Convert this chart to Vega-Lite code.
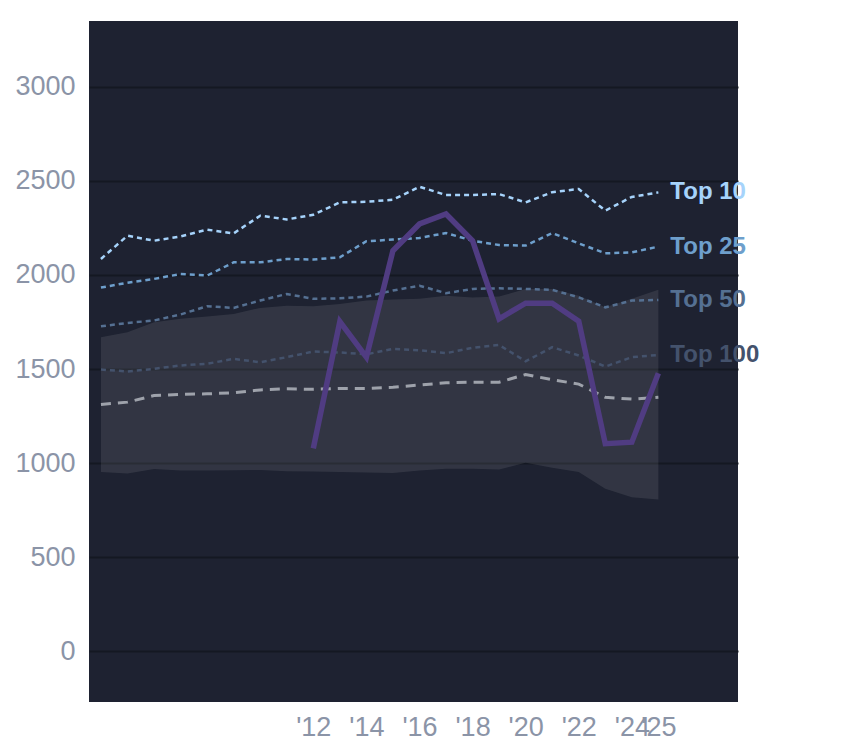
{
  "$schema": "https://vega.github.io/schema/vega-lite/v6.json",
  "autosize": {"type": "none"},
  "padding": {"left": 89, "top": 21, "right": 106, "bottom": 46},
  "width": 649,
  "height": 681,
  "background": "white",
  "config": {
    "view": {"fill": "#1e2231", "stroke": null},
    "font": "Liberation Sans",
    "axis": {
      "domain": false,
      "ticks": false,
      "labelFont": "Liberation Sans",
      "labelFontSize": 27,
      "labelColor": "#8b94a7",
      "title": null
    }
  },
  "datasets": {
    "band": [
      {"year": 2004, "lo": 952, "hi": 1669},
      {"year": 2005, "lo": 944, "hi": 1696},
      {"year": 2006, "lo": 968, "hi": 1749},
      {"year": 2007, "lo": 961, "hi": 1767},
      {"year": 2008, "lo": 960, "hi": 1779},
      {"year": 2009, "lo": 962, "hi": 1793},
      {"year": 2010, "lo": 963, "hi": 1825},
      {"year": 2011, "lo": 956, "hi": 1837},
      {"year": 2012, "lo": 955, "hi": 1834},
      {"year": 2013, "lo": 952, "hi": 1846},
      {"year": 2014, "lo": 950, "hi": 1864},
      {"year": 2015, "lo": 947, "hi": 1869},
      {"year": 2016, "lo": 961, "hi": 1873},
      {"year": 2017, "lo": 970, "hi": 1890},
      {"year": 2018, "lo": 970, "hi": 1880},
      {"year": 2019, "lo": 966, "hi": 1885},
      {"year": 2020, "lo": 1002, "hi": 1925},
      {"year": 2021, "lo": 975, "hi": 1925},
      {"year": 2022, "lo": 952, "hi": 1890},
      {"year": 2023, "lo": 864, "hi": 1828},
      {"year": 2024, "lo": 819, "hi": 1873},
      {"year": 2025, "lo": 807, "hi": 1922}
    ],
    "tiers": [
      {"year": 2004, "tier": "Top 10", "value": 2085},
      {"year": 2005, "tier": "Top 10", "value": 2209},
      {"year": 2006, "tier": "Top 10", "value": 2182},
      {"year": 2007, "tier": "Top 10", "value": 2205},
      {"year": 2008, "tier": "Top 10", "value": 2241},
      {"year": 2009, "tier": "Top 10", "value": 2221},
      {"year": 2010, "tier": "Top 10", "value": 2315},
      {"year": 2011, "tier": "Top 10", "value": 2295},
      {"year": 2012, "tier": "Top 10", "value": 2320},
      {"year": 2013, "tier": "Top 10", "value": 2386},
      {"year": 2014, "tier": "Top 10", "value": 2389},
      {"year": 2015, "tier": "Top 10", "value": 2400},
      {"year": 2016, "tier": "Top 10", "value": 2469},
      {"year": 2017, "tier": "Top 10", "value": 2425},
      {"year": 2018, "tier": "Top 10", "value": 2425},
      {"year": 2019, "tier": "Top 10", "value": 2430},
      {"year": 2020, "tier": "Top 10", "value": 2386},
      {"year": 2021, "tier": "Top 10", "value": 2440},
      {"year": 2022, "tier": "Top 10", "value": 2457},
      {"year": 2023, "tier": "Top 10", "value": 2342},
      {"year": 2024, "tier": "Top 10", "value": 2415},
      {"year": 2025, "tier": "Top 10", "value": 2439},
      {"year": 2004, "tier": "Top 25", "value": 1933},
      {"year": 2005, "tier": "Top 25", "value": 1959},
      {"year": 2006, "tier": "Top 25", "value": 1979},
      {"year": 2007, "tier": "Top 25", "value": 2005},
      {"year": 2008, "tier": "Top 25", "value": 1997},
      {"year": 2009, "tier": "Top 25", "value": 2067},
      {"year": 2010, "tier": "Top 25", "value": 2067},
      {"year": 2011, "tier": "Top 25", "value": 2085},
      {"year": 2012, "tier": "Top 25", "value": 2082},
      {"year": 2013, "tier": "Top 25", "value": 2094},
      {"year": 2014, "tier": "Top 25", "value": 2179},
      {"year": 2015, "tier": "Top 25", "value": 2188},
      {"year": 2016, "tier": "Top 25", "value": 2197},
      {"year": 2017, "tier": "Top 25", "value": 2223},
      {"year": 2018, "tier": "Top 25", "value": 2182},
      {"year": 2019, "tier": "Top 25", "value": 2159},
      {"year": 2020, "tier": "Top 25", "value": 2156},
      {"year": 2021, "tier": "Top 25", "value": 2223},
      {"year": 2022, "tier": "Top 25", "value": 2168},
      {"year": 2023, "tier": "Top 25", "value": 2115},
      {"year": 2024, "tier": "Top 25", "value": 2120},
      {"year": 2025, "tier": "Top 25", "value": 2151},
      {"year": 2004, "tier": "Top 50", "value": 1727},
      {"year": 2005, "tier": "Top 50", "value": 1745},
      {"year": 2006, "tier": "Top 50", "value": 1758},
      {"year": 2007, "tier": "Top 50", "value": 1790},
      {"year": 2008, "tier": "Top 50", "value": 1834},
      {"year": 2009, "tier": "Top 50", "value": 1825},
      {"year": 2010, "tier": "Top 50", "value": 1864},
      {"year": 2011, "tier": "Top 50", "value": 1899},
      {"year": 2012, "tier": "Top 50", "value": 1873},
      {"year": 2013, "tier": "Top 50", "value": 1876},
      {"year": 2014, "tier": "Top 50", "value": 1885},
      {"year": 2015, "tier": "Top 50", "value": 1917},
      {"year": 2016, "tier": "Top 50", "value": 1943},
      {"year": 2017, "tier": "Top 50", "value": 1903},
      {"year": 2018, "tier": "Top 50", "value": 1926},
      {"year": 2019, "tier": "Top 50", "value": 1929},
      {"year": 2020, "tier": "Top 50", "value": 1926},
      {"year": 2021, "tier": "Top 50", "value": 1921},
      {"year": 2022, "tier": "Top 50", "value": 1881},
      {"year": 2023, "tier": "Top 50", "value": 1828},
      {"year": 2024, "tier": "Top 50", "value": 1864},
      {"year": 2025, "tier": "Top 50", "value": 1867},
      {"year": 2004, "tier": "Top 100", "value": 1497},
      {"year": 2005, "tier": "Top 100", "value": 1487},
      {"year": 2006, "tier": "Top 100", "value": 1501},
      {"year": 2007, "tier": "Top 100", "value": 1519},
      {"year": 2008, "tier": "Top 100", "value": 1528},
      {"year": 2009, "tier": "Top 100", "value": 1554},
      {"year": 2010, "tier": "Top 100", "value": 1536},
      {"year": 2011, "tier": "Top 100", "value": 1563},
      {"year": 2012, "tier": "Top 100", "value": 1593},
      {"year": 2013, "tier": "Top 100", "value": 1588},
      {"year": 2014, "tier": "Top 100", "value": 1578},
      {"year": 2015, "tier": "Top 100", "value": 1607},
      {"year": 2016, "tier": "Top 100", "value": 1600},
      {"year": 2017, "tier": "Top 100", "value": 1584},
      {"year": 2018, "tier": "Top 100", "value": 1613},
      {"year": 2019, "tier": "Top 100", "value": 1628},
      {"year": 2020, "tier": "Top 100", "value": 1541},
      {"year": 2021, "tier": "Top 100", "value": 1616},
      {"year": 2022, "tier": "Top 100", "value": 1572},
      {"year": 2023, "tier": "Top 100", "value": 1513},
      {"year": 2024, "tier": "Top 100", "value": 1563},
      {"year": 2025, "tier": "Top 100", "value": 1575}
    ],
    "median": [
      {"year": 2004, "value": 1312},
      {"year": 2005, "value": 1324},
      {"year": 2006, "value": 1359},
      {"year": 2007, "value": 1365},
      {"year": 2008, "value": 1368},
      {"year": 2009, "value": 1374},
      {"year": 2010, "value": 1389},
      {"year": 2011, "value": 1395},
      {"year": 2012, "value": 1392},
      {"year": 2013, "value": 1397},
      {"year": 2014, "value": 1397},
      {"year": 2015, "value": 1403},
      {"year": 2016, "value": 1415},
      {"year": 2017, "value": 1427},
      {"year": 2018, "value": 1430},
      {"year": 2019, "value": 1430},
      {"year": 2020, "value": 1471},
      {"year": 2021, "value": 1443},
      {"year": 2022, "value": 1420},
      {"year": 2023, "value": 1350},
      {"year": 2024, "value": 1340},
      {"year": 2025, "value": 1350}
    ],
    "player": [
      {"year": 2012, "value": 1078},
      {"year": 2013, "value": 1752},
      {"year": 2014, "value": 1563},
      {"year": 2015, "value": 2129},
      {"year": 2016, "value": 2271},
      {"year": 2017, "value": 2324},
      {"year": 2018, "value": 2182},
      {"year": 2019, "value": 1767},
      {"year": 2020, "value": 1850},
      {"year": 2021, "value": 1850},
      {"year": 2022, "value": 1754},
      {"year": 2023, "value": 1103},
      {"year": 2024, "value": 1111},
      {"year": 2025, "value": 1478}
    ]
  },
  "encoding": {
    "x": {
      "field": "year",
      "type": "quantitative",
      "scale": {"domain": [2003.55, 2028], "nice": false, "zero": false},
      "axis": {
        "values": [2012, 2014, 2016, 2018, 2020, 2022, 2024, 2025],
        "labelExpr": "\"'\" + slice(toString(datum.value), 2)",
        "grid": false,
        "labelPadding": 12,
        "labelFlush": false,
        "labelOverlap": false
      }
    }
  },
  "layer": [
    {
      "data": {"name": "band"},
      "mark": {"type": "area", "color": "white", "opacity": 0.09},
      "encoding": {
        "y": {
          "field": "lo",
          "type": "quantitative",
          "scale": {"domain": [-270, 3350], "nice": false, "zero": false},
          "axis": {
            "values": [0, 500, 1000, 1500, 2000, 2500, 3000],
            "format": "d",
            "grid": true,
            "gridColor": "#141822",
            "gridWidth": 2,
            "labelPadding": 14
          }
        },
        "y2": {"field": "hi"}
      }
    },
    {
      "data": {"name": "tiers"},
      "mark": {"type": "line", "strokeWidth": 2.5, "strokeDash": [5, 4]},
      "encoding": {
        "y": {"field": "value", "type": "quantitative"},
        "color": {
          "field": "tier",
          "type": "nominal",
          "scale": {
            "domain": ["Top 10", "Top 25", "Top 50", "Top 100"],
            "range": ["#a6d3fb", "#6e9fcc", "#557092", "#44526c"]
          },
          "legend": null
        },
        "detail": {"field": "tier"}
      }
    },
    {
      "data": {"name": "median"},
      "mark": {"type": "line", "strokeWidth": 3, "strokeDash": [10, 7], "color": "#9ea2ab"},
      "encoding": {
        "y": {"field": "value", "type": "quantitative"}
      }
    },
    {
      "data": {"name": "player"},
      "mark": {"type": "line", "strokeWidth": 5.5, "color": "#503c82", "strokeJoin": "miter"},
      "encoding": {
        "y": {"field": "value", "type": "quantitative"}
      }
    },
    {
      "data": {"name": "tiers"},
      "transform": [{"filter": "datum.year == 2025"}],
      "mark": {
        "type": "text",
        "align": "left",
        "baseline": "middle",
        "dx": 12,
        "fontSize": 24,
        "fontWeight": "bold",
        "font": "Liberation Sans"
      },
      "encoding": {
        "y": {"field": "value", "type": "quantitative"},
        "text": {"field": "tier"},
        "color": {"field": "tier", "type": "nominal", "legend": null}
      }
    }
  ]
}
